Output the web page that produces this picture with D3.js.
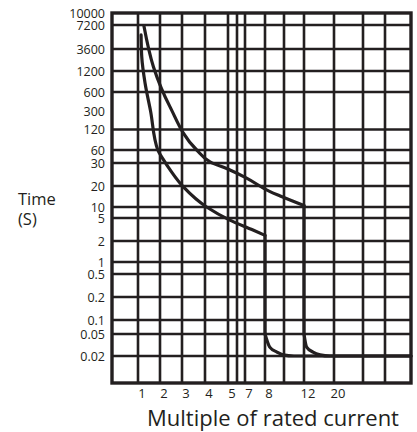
<!DOCTYPE html>
<html>
<head>
<meta charset="utf-8">
<script src="https://cdn.jsdelivr.net/npm/d3@7"></script>
<style>
  body { margin: 0; background: #fff; }
  text { font-family: "Open Sans", sans-serif; fill: #231f20; }
</style>
</head>
<body>
<script>
// tripping time (s) labels, top to bottom
const timeLabels = [10000, 7200, 3600, 1200, 600, 300, 120, 60, 30, 20, 10, 5, 2, 1, 0.5, 0.2, 0.1, 0.05, 0.02];
// horizontal grid (the chart has no line at 300)
const timeGrid = [7200, 3600, 1200, 600, 120, 60, 30, 20, 10, 5, 2, 1, 0.5, 0.2, 0.1, 0.05, 0.02];
// multiple of rated current
const currentLabels = [1, 2, 3, 4, 5, 7, 8, 12, 20];
const currentGrid = [1, 2, 3, 4, 5, 6, 7, 8, 10, 12, 20, 30, 40];

// lower curve
const lowCurrent = [1.14, 1.17, 1.32, 1.57, 1.9, 2.14, 2.5, 3.06, 4.07, 5.2, 7.4, 8, 8, 8.5, 9.26, 9.9, 11, 50];
const lowTime = [5400, 2450, 807, 300, 60, 37, 26, 19.4, 10, 4.6, 3.1, 2.5, 0.05, 0.029, 0.0236, 0.021, 0.02, 0.02];
// upper curve
const highCurrent = [1.27, 1.7, 2.45, 3.64, 4.22, 5.22, 7.08, 8.53, 9.6, 12, 12, 12.7, 14.4, 16.3, 18.9, 22, 50];
const highTime = [7000, 1490, 352, 60, 32, 26.5, 23, 16.6, 14.4, 10.5, 0.05, 0.029, 0.0236, 0.021, 0.02, 0.02, 0.02];

const w = 417, h = 432;
const ink = "#231f20";

// the printed grid is not evenly spaced, so both scales are piecewise
const y = d3.scaleLog()
  .domain([10000, 7200, 3600, 1200, 600, 300, 120, 60, 30, 20, 10, 5, 2, 1, 0.5, 0.2, 0.1, 0.05, 0.02, 0.01])
  .range([13, 25, 49, 71, 92, 111, 129.5, 150, 163, 186, 207, 218, 241, 262, 274, 297, 320, 334, 356, 383]);
const x = d3.scaleLinear()
  .domain([0, 1, 2, 3, 4, 5, 6, 7, 8, 10, 12, 20, 30, 40, 50])
  .range([112, 138, 160, 182, 205, 228, 237, 245, 265, 284, 304, 334, 363, 385, 411]);

const svg = d3.select("body")
  .append("svg")
  .attr("width", w)
  .attr("height", h);

svg.append("g")
  .selectAll("line")
  .data(timeGrid)
  .enter()
  .append("line")
  .attr("x1", x(0))
  .attr("x2", x(50))
  .attr("y1", (d) => y(d))
  .attr("y2", (d) => y(d))
  .attr("stroke", ink)
  .attr("stroke-width", 2.6);

svg.append("g")
  .selectAll("line")
  .data(currentGrid)
  .enter()
  .append("line")
  .attr("x1", (d) => x(d))
  .attr("x2", (d) => x(d))
  .attr("y1", y(10000))
  .attr("y2", y(0.01))
  .attr("stroke", ink)
  .attr("stroke-width", 2.6);

// frame
svg.append("rect")
  .attr("x", x(0))
  .attr("y", y(10000))
  .attr("width", x(50) - x(0))
  .attr("height", y(0.01) - y(10000))
  .attr("fill", "none")
  .attr("stroke", ink)
  .attr("stroke-width", 3.4);

const lineY = d3.line()
  .x((d) => x(d[0]))
  .y((d) => y(d[1]))
  .curve(d3.curveMonotoneY);
const lineX = d3.line()
  .x((d) => x(d[0]))
  .y((d) => y(d[1]))
  .curve(d3.curveMonotoneX);

// each curve: thermal part, straight drop at the magnetic trip, then the bend into the floor
[[lowCurrent, lowTime], [highCurrent, highTime]].forEach((c) => {
  const pts = d3.zip(c[0], c[1]);
  let k = 0;
  while (c[0][k] !== c[0][k + 1]) k++;
  const parts = [
    lineY(pts.slice(0, k + 1)),
    lineY(pts.slice(k, k + 2)),
    lineX(pts.slice(k + 1))
  ];
  parts.forEach((p) => {
    svg.append("path")
      .attr("d", p)
      .attr("fill", "none")
      .attr("stroke", ink)
      .attr("stroke-width", 3.2)
      .attr("stroke-linecap", "round");
  });
});

svg.append("g")
  .selectAll("text")
  .data(timeLabels)
  .enter()
  .append("text")
  .text((d) => d)
  .attr("x", 105)
  .attr("y", (d) => y(d))
  .attr("dy", "0.36em")
  .attr("text-anchor", "end")
  .attr("font-size", "12.5px");

svg.append("g")
  .selectAll("text")
  .data(currentLabels)
  .enter()
  .append("text")
  .text((d) => d)
  .attr("x", (d) => x(d) + 4)
  .attr("y", 398)
  .attr("text-anchor", "middle")
  .attr("font-size", "13px");

svg.append("text")
  .text("Time")
  .attr("x", 18)
  .attr("y", 205)
  .attr("font-size", "16.5px");
svg.append("text")
  .text("(S)")
  .attr("x", 18)
  .attr("y", 225)
  .attr("font-size", "16.5px");

svg.append("text")
  .text("Multiple of rated current")
  .attr("x", 273)
  .attr("y", 426)
  .attr("text-anchor", "middle")
  .attr("font-size", "22px");
</script>
</body>
</html>
